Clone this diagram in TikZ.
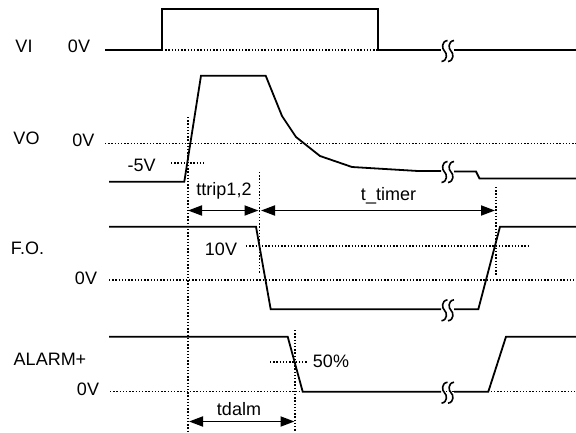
\documentclass[tikz,border=0pt]{standalone}
\usepackage{fontspec}
\setmainfont{Liberation Sans}
\usetikzlibrary{arrows.meta,calc}

% break mark on a waveform: x, y of the mark
\newcommand{\wavebreak}[2]{%
  \foreach \dx in {0,6.5} {
    \draw[line width=1.6pt] (#1+\dx+3,#2-9.5) .. controls (#1+\dx-3.5,#2-8.5) and (#1+\dx-2.5,#2-1) .. (#1+\dx,#2+1)
      .. controls (#1+\dx+2.5,#2+3) and (#1+\dx+3.5,#2+10.5) .. (#1+\dx-3,#2+11.5);
  }}

\begin{document}
\begin{tikzpicture}[x=1pt,y=-1pt,
			wave/.style={black,line width=1.8pt},
			guide/.style={black,line width=1.4pt,dash pattern=on 1.4pt off 1.8pt},
			span/.style={black,line width=1.8pt,{Triangle[length=14pt,width=10pt]}-{Triangle[length=14pt,width=10pt]}},
			lbl/.style={anchor=base,inner sep=0pt,font=\fontsize{18}{20}\selectfont}]
		\useasboundingbox (0,0) rectangle (576,432);
		% signal names and levels
		\path 	(24,52) 	node 	(vi) [lbl] {VI}
		        (79,52.3) 	node 	(vizero) [lbl] {0V}
		        (26.5,144) 	node 	(vo) [lbl] {VO}
		        (83.3,146.7) 	node 	(vozero) [lbl] {0V}
		        (141.7,171.7) 	node 	(vominus) [lbl] {-5V}
		        (27.5,254.3) 	node 	(fo) [lbl] {F.O.}
		        (221,255.7) 	node 	(foten) [lbl] {10V}
		        (86,284) 	node 	(fozero) [lbl] {0V}
		        (50,365.7) 	node 	(alm) [lbl] {ALARM+}
		        (88,395.7) 	node 	(almzero) [lbl] {0V}
		        (331,367.3) 	node 	(almhalf) [lbl] {50\%};
		% guide lines
		\draw [guide] (162,50) -- (430,50);
		\draw [guide] (105,143.3) -- (576,143.3);
		\draw [guide] (171,163) -- (206,163);
		\draw [guide] (246,246) -- (530,246);
		\draw [guide] (109,280) -- (576,280);
		\draw [guide] (270,362) -- (307,362);
		\draw [guide] (110,391.7) -- (576,391.7);
		\path 	(188,117) 	coordinate 	(g0) 	(188,432) 	coordinate 	(g0b)
		        (259.5,172) 	coordinate 	(g1) 	(259.5,274) 	coordinate 	(g1b)
		        (496,187) 	coordinate 	(g2) 	(496,275) 	coordinate 	(g2b)
		        (295,330) 	coordinate 	(g3) 	(295,432) 	coordinate 	(g3b);
		\foreach \g in {g0,g1,g2,g3}
			\draw [guide] (\g) -- (\g b);
		% waveforms
		\draw [wave] (105,50) -- (162.3,50) -- (162.3,9) -- (377.7,9) -- (377.7,50) -- (441,50);
		\draw [wave] (454,50) -- (576,50);
		\draw [wave] (109,181.7) -- (184.3,181.7) -- (201,75.7) -- (265.7,75.7) -- (282,116) -- (296,137)
			-- (320,156) -- (352,167) -- (418,171) -- (441,171);
		\draw [wave] (454,171.5) -- (476,171.5) -- (479.5,178.5) -- (576,178.5);
		\draw [wave] (109,226.7) -- (256,226.7) -- (270.7,309.3) -- (441,309.3);
		\draw [wave] (454,309.3) -- (478.3,309.3) -- (500,226.7) -- (576,226.7);
		\draw [wave] (109,336.7) -- (287.7,336.7) -- (302.7,391.7) -- (441,391.7);
		\draw [wave] (454,391.7) -- (488.3,391.7) -- (506,336.7) -- (576,336.7);
		\foreach \y in {50,171,309.3,391.7}
			\wavebreak{444.5}{\y}
		% time spans
		\path 	(188,210.5) 	coordinate 	(trA) 	(258.5,210.5) 	coordinate 	(trB)
		        (261,210.5) 	coordinate 	(tmA) 	(495,210.5) 	coordinate 	(tmB)
		        (189,421.5) 	coordinate 	(daA) 	(294.5,421.5) 	coordinate 	(daB);
		\draw [span] (trA) -- (trB);
		\draw [span] (tmA) -- (tmB);
		\draw [span] (daA) -- (daB);
		\path 	(224,195.3) 	node 	(ttrip) [lbl] {ttrip1,2}
		        (388.5,200) 	node 	(ttimer) [lbl] {t\_timer}
		        (239,415) 	node 	(tdalm) [lbl] {tdalm};
	\end{tikzpicture}
\end{document}
